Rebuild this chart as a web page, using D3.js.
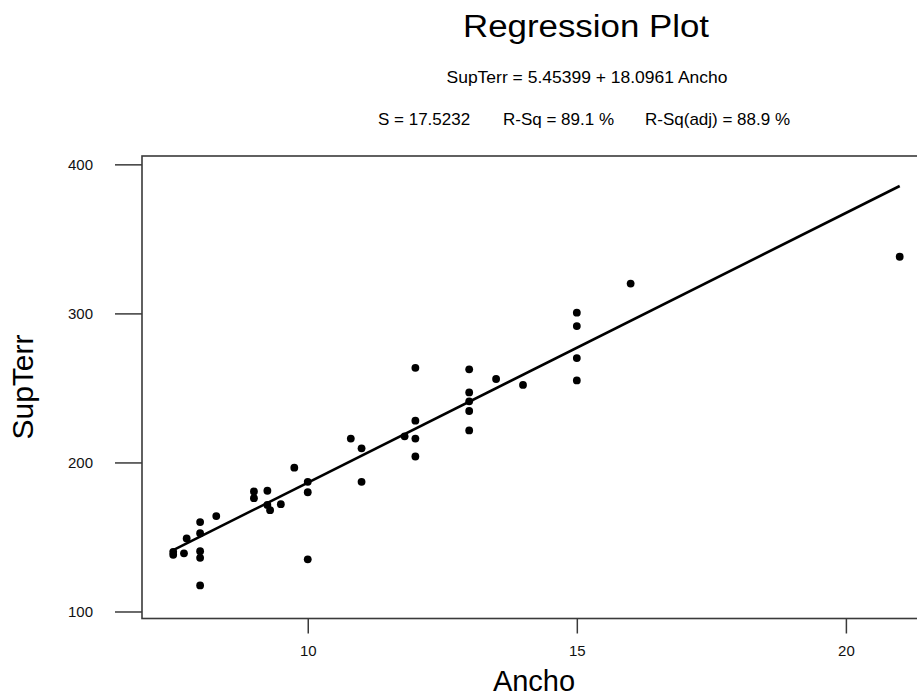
<!DOCTYPE html>
<html>
<head>
<meta charset="utf-8">
<script src="https://cdn.jsdelivr.net/npm/d3@7"></script>
<style>
  html, body { margin: 0; padding: 0; background: #fff; }
  svg { display: block; font-family: "Liberation Sans", Arial, sans-serif; }
</style>
</head>
<body>
<svg id="chart" width="917" height="698"></svg>
<script>
// ---- data ----
const ancho = [7.5, 7.5, 7.7, 7.75, 8, 8, 8, 8, 8, 8.3, 9, 9, 9.25, 9.25, 9.3, 9.5, 9.75,
  10, 10, 10, 10.8, 11, 11, 11.8, 12, 12, 12, 12, 13, 13, 13, 13, 13, 13.5, 14,
  15, 15, 15, 15, 16, 21];
const supTerr = [140, 138, 139, 149, 160, 152.5, 140.5, 136, 117.5, 164, 180.5, 176, 181, 171.5, 168, 172, 196.5,
  187, 180, 135, 216, 209.5, 187, 217.5, 263.5, 228, 216, 204, 262.5, 247, 241, 234.5, 221.5, 256, 252,
  300.5, 291.5, 270, 255, 320, 338];
const intercept = 5.45399;
const slope = 18.0961;
const xTicks = [10, 15, 20];
const yTicks = [100, 200, 300, 400];
const titleText = "Regression Plot";
const equationText = "SupTerr = 5.45399 + 18.0961 Ancho";
const statsTexts = ["S = 17.5232", "R-Sq = 89.1 %", "R-Sq(adj) = 88.9 %"];
const xLabel = "Ancho";
const yLabel = "SupTerr";

// ---- layout ----
const svg = d3.select("#chart");
const pLeft = 142, pRight = 932, pTop = 156, pBottom = 618.5;

const x = d3.scaleLinear().domain([6.92, 21.6]).range([pLeft, pRight]);
const y = d3.scaleLinear().domain([95.3, 405.6]).range([pBottom, pTop]);

// frame
svg.append("rect")
  .attr("x", pLeft).attr("y", pTop)
  .attr("width", pRight - pLeft).attr("height", pBottom - pTop)
  .attr("fill", "none").attr("stroke", "#3a3a3a").attr("stroke-width", 1.6);

// axes
const yAxis = d3.axisLeft(y).tickValues(yTicks).tickSize(27).tickPadding(22).tickFormat(d3.format("d"));
const gy = svg.append("g").attr("transform", `translate(${pLeft},0)`).call(yAxis);
gy.select(".domain").remove();
gy.selectAll(".tick line").attr("stroke", "#3a3a3a").attr("stroke-width", 1.5);
gy.selectAll(".tick text").attr("font-size", 15).attr("fill", "#111")
  .attr("font-family", "Liberation Sans, Arial, sans-serif");

const xAxis = d3.axisBottom(x).tickValues(xTicks).tickSize(15).tickPadding(12).tickFormat(d3.format("d"));
const gx = svg.append("g").attr("transform", `translate(0,${pBottom})`).call(xAxis);
gx.select(".domain").remove();
gx.selectAll(".tick line").attr("stroke", "#3a3a3a").attr("stroke-width", 1.5);
gx.selectAll(".tick text").attr("font-size", 15).attr("fill", "#111")
  .attr("font-family", "Liberation Sans, Arial, sans-serif");

// regression line
const xMin = d3.min(ancho), xMax = d3.max(ancho);
svg.append("line")
  .attr("x1", x(xMin)).attr("y1", y(intercept + slope * xMin))
  .attr("x2", x(xMax)).attr("y2", y(intercept + slope * xMax))
  .attr("stroke", "#000").attr("stroke-width", 2.6);

// points
svg.append("g").selectAll("circle")
  .data(ancho.map((a, i) => [a, supTerr[i]]))
  .join("circle")
  .attr("cx", d => x(d[0])).attr("cy", d => y(d[1]))
  .attr("r", 3.9).attr("fill", "#000");

// titles
svg.append("text").text(titleText)
  .attr("x", 586).attr("y", 37).attr("text-anchor", "middle")
  .attr("font-size", 31).attr("fill", "#000")
  .attr("textLength", 246).attr("lengthAdjust", "spacingAndGlyphs");

svg.append("text").text(equationText)
  .attr("x", 587).attr("y", 83).attr("text-anchor", "middle")
  .attr("font-size", 17).attr("fill", "#000")
  .attr("textLength", 281).attr("lengthAdjust", "spacingAndGlyphs");

const statsX = [378, 503, 645];
statsTexts.forEach((t, i) => {
  svg.append("text").text(t)
    .attr("x", statsX[i]).attr("y", 125)
    .attr("font-size", 17).attr("fill", "#000");
});

svg.append("text").text(xLabel)
  .attr("x", 534).attr("y", 691).attr("text-anchor", "middle")
  .attr("font-size", 29).attr("fill", "#000");

svg.append("text").text(yLabel)
  .attr("transform", "translate(33,387) rotate(-90)")
  .attr("text-anchor", "middle")
  .attr("font-size", 30).attr("fill", "#000");
</script>
</body>
</html>
